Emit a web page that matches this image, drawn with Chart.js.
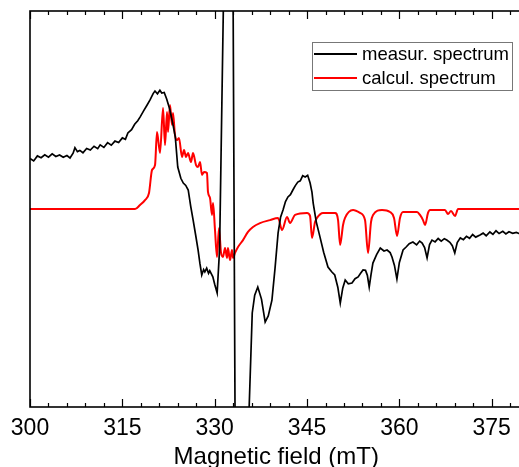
<!DOCTYPE html>
<html>
<head>
<meta charset="utf-8">
<script src="https://cdn.jsdelivr.net/npm/chart.js@4.4.0/dist/chart.umd.min.js"></script>
<style>
html, body { margin: 0; padding: 0; background: #fff; overflow: hidden; }
#wrap { width: 525px; height: 467px; }
</style>
</head>
<body>
<div id="wrap"><canvas id="epr" width="525" height="467"></canvas></div>
<script>
// measured spectrum (magnetic field in mT, signal in arb. units)
var fieldMeasured = [300.0,300.6,301.2,301.8,302.4,303.0,303.6,304.2,304.8,305.4,306.0,306.5,307.0,307.3,307.7,308.1,308.6,309.2,309.8,310.4,311.0,311.4,312.0,312.6,313.2,313.8,314.4,315.0,315.5,315.9,316.5,317.0,317.5,317.9,318.5,319.0,319.5,320.0,320.3,320.7,321.1,321.4,321.8,322.2,322.7,323.2,323.6,324.0,324.5,324.9,325.3,325.7,326.1,326.5,326.9,327.3,327.6,327.9,328.2,328.4,328.7,329.0,329.2,329.5,329.7,330.0,330.4,330.8,331.4,332.2,333.0,333.3,334.1,335.6,336.1,336.5,337.0,337.6,338.2,338.7,339.3,339.8,340.3,340.7,341.1,341.5,341.9,342.3,342.7,343.1,343.5,343.9,344.3,344.7,345.1,345.5,345.8,346.0,346.5,347.1,347.7,348.4,349.0,349.5,350.0,350.4,350.8,351.2,351.7,352.3,352.8,353.3,353.7,354.1,354.5,354.8,355.1,355.4,355.7,356.3,356.9,357.5,358.0,358.5,358.8,359.2,359.6,360.0,360.6,361.1,361.6,362.2,362.8,363.3,363.7,364.1,364.5,364.9,365.3,365.8,366.3,366.8,367.3,367.7,368.2,368.6,369.0,369.4,369.9,370.4,370.9,371.4,371.9,372.4,373.1,373.6,374.1,374.7,375.2,375.7,376.2,376.8,377.3,377.8,378.4,379.0,379.6,380.0];
var signalMeasured = [25.5,24.3,26.8,25.9,27.4,26.2,27.9,26.5,27.3,26.1,27.0,25.8,28.2,31.0,29.0,29.6,28.4,30.6,29.8,31.7,30.5,32.4,31.1,33.5,32.2,34.3,33.6,35.9,35.2,38.4,40.1,42.8,44.6,46.5,49.8,52.4,55.1,58.3,59.6,58.2,60.0,58.6,58.9,55.6,50.4,43.0,36.4,21.2,15.5,13.1,11.9,9.6,1.5,-5.6,-13.0,-20.7,-27.5,-33.3,-30.6,-31.8,-29.9,-32.5,-31.2,-33.0,-34.3,-38.0,-42.4,-20,100,900,100,-100,-700,-100,-52.5,-43.5,-39.4,-45.5,-57.1,-54.0,-46.0,-30.0,-12.1,-4.2,-0.5,3.8,6.1,7.2,9.6,11.8,13.6,14.2,16.8,16.2,17.0,13.1,8.5,3.0,-6.5,-14.1,-21.8,-29.3,-31.7,-33.3,-39.5,-47.5,-40.0,-35.9,-37.8,-37.4,-35.2,-34.3,-32.5,-30.8,-31.0,-33.5,-39.4,-33.0,-27.3,-23.0,-19.7,-21.2,-20.7,-22.0,-24.2,-28.5,-35.4,-27.0,-20.7,-19.2,-17.5,-16.7,-18.1,-16.2,-17.2,-19.5,-24.7,-18.0,-15.7,-16.6,-14.9,-16.2,-15.0,-15.7,-16.8,-18.5,-22.2,-17.0,-14.6,-15.5,-13.8,-14.8,-12.9,-14.2,-13.1,-12.2,-13.5,-11.6,-12.8,-11.0,-12.4,-11.3,-12.6,-11.5,-12.3,-11.8,-12.6,-12.1];

// calculated spectrum
var fieldCalc = [300.0,317.06,317.87,318.68,319.33,319.82,320.31,320.63,321.12,321.61,321.93,322.26,322.42,322.74,323.07,323.23,323.55,323.88,324.20,324.69,325.02,325.34,325.67,326.15,326.48,326.97,327.29,327.62,327.94,328.27,328.75,328.91,329.24,329.56,329.73,330.05,330.38,330.70,331.03,331.35,331.68,332.00,332.16,332.49,332.81,332.98,333.30,333.79,334.60,335.41,336.22,337.36,338.99,340.29,340.94,341.75,342.24,343.05,345.00,345.49,345.81,346.30,346.62,347.60,349.55,350.04,350.37,350.85,351.17,352.47,353.61,354.42,354.91,355.39,355.72,357.18,358.48,359.13,359.62,360.10,360.59,362.87,363.35,363.84,364.17,364.65,364.98,367.41,367.90,368.39,369.04,369.53,380.0];
var signalCalc = [0,0,2.0,4.5,8.1,19.7,22.2,38.9,28.3,51.0,32.3,49.0,38.9,52.5,42.4,48.5,37.4,34.8,35.9,26.3,29.8,26.3,28.3,23.7,28.3,22.2,21.2,23.7,17.2,18.7,18.2,8.6,5.6,-3.0,3.0,-10.6,-24.2,-9.6,-22.2,-24.2,-19.7,-24.7,-19.7,-25.8,-20.7,-24.7,-22.2,-19.2,-15.7,-11.6,-9.1,-7.1,-5.6,-4.5,-10.6,-4.0,-7.1,-3.0,-2.0,-3.5,-14.6,-6.6,-4.5,-2.0,-2.0,-5.6,-18.2,-8.1,-4.5,-0.5,-2.0,-5.6,-22.2,-6.6,-3.0,-0.5,-1.5,-4.5,-13.6,-4.5,-1.5,-1.5,-3.0,-5.6,-8.1,-2.0,-0.5,-0.5,-2.5,-1.0,-3.5,0,0];

var xTicks = [300, 315, 330, 345, 360, 375];

function toPoints(xs, ys) {
    return xs.map(function (x, i) { return { x: x, y: ys[i] }; });
}

var framePlugin = {
    id: 'frame',
    afterDatasetsDraw: function (chart) {
        var ctx = chart.ctx, a = chart.chartArea, xs = chart.scales.x;
        ctx.save();
        ctx.strokeStyle = '#000';
        ctx.lineWidth = 1.6;
        ctx.strokeRect(a.left, a.top, a.right - a.left, a.bottom - a.top);
        ctx.lineWidth = 1.2;
        for (var v = 300; v < 380; v += 3) {
            var px = Math.round(xs.getPixelForValue(v)) + 0.5;
            var len = (v % 15 === 0) ? 8 : 4;
            ctx.beginPath();
            ctx.moveTo(px, a.bottom); ctx.lineTo(px, a.bottom - len);
            ctx.moveTo(px, a.top); ctx.lineTo(px, a.top + len);
            ctx.stroke();
        }
        // legend
        var bx = 312, by = 42, bw = 200, bh = 48;
        ctx.fillStyle = '#fff';
        ctx.fillRect(bx, by, bw, bh);
        ctx.strokeStyle = '#777';
        ctx.lineWidth = 1;
        ctx.strokeRect(bx + 0.5, by + 0.5, bw, bh);
        ctx.font = '18.5px "Liberation Sans", Arial, sans-serif';
        ctx.textBaseline = 'middle';
        chart.data.datasets.forEach(function (ds, i) {
            var y = by + 12 + i * 24;
            ctx.strokeStyle = ds.borderColor;
            ctx.lineWidth = 2;
            ctx.beginPath();
            ctx.moveTo(bx + 2, y); ctx.lineTo(bx + 45, y);
            ctx.stroke();
            ctx.fillStyle = '#000';
            ctx.fillText(ds.label, bx + 50, y + 1);
        });
        ctx.restore();
    }
};

var ctx = document.getElementById('epr').getContext('2d');
var chart = new Chart(ctx, {
    type: 'line',
    data: {
        datasets: [{
            label: 'measur. spectrum',
            data: toPoints(fieldMeasured, signalMeasured),
            borderColor: '#000000',
            borderWidth: 1.7,
            pointRadius: 0,
            tension: 0
        }, {
            label: 'calcul. spectrum',
            data: toPoints(fieldCalc, signalCalc),
            borderColor: '#ff0000',
            borderWidth: 2,
            pointRadius: 0,
            cubicInterpolationMode: 'monotone'
        }]
    },
    options: {
        responsive: false,
        animation: false,
        devicePixelRatio: 1,
        layout: { padding: { left: 30, top: 11, right: 2.5, bottom: 0 } },
        plugins: { legend: { display: false }, tooltip: { enabled: false } },
        scales: {
            x: {
                type: 'linear',
                min: 300,
                max: 380,
                afterBuildTicks: function (s) { s.ticks = xTicks.map(function (v) { return { value: v }; }); },
                afterFit: function (s) { s.height = 60; },
                grid: { display: false, drawTicks: false },
                border: { display: false },
                ticks: { color: '#000', padding: 8, maxRotation: 0, autoSkip: false,
                         font: { family: '"Liberation Sans", Arial, sans-serif', size: 23 } },
                title: { display: true, text: 'Magnetic field (mT)', color: '#000', padding: { top: 0, bottom: -5 },
                         font: { family: '"Liberation Sans", Arial, sans-serif', size: 24 } }
            },
            y: {
                display: false,
                min: -100,
                max: 100
            }
        }
    },
    plugins: [framePlugin]
});
</script>
</body>
</html>
